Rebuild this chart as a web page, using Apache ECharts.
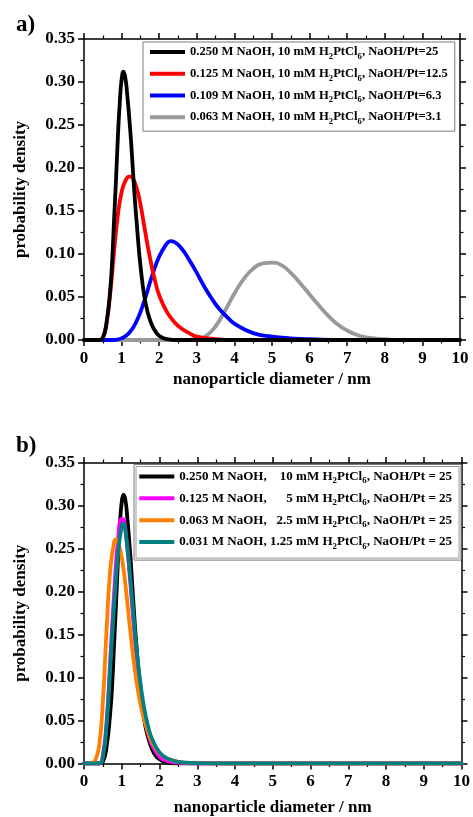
<!DOCTYPE html>
<html>
<head>
<meta charset="utf-8">
<script src="https://cdn.jsdelivr.net/npm/echarts@6/dist/echarts.min.js"></script>
<style>
  html, body { margin: 0; padding: 0; background: #fff; }
  #chart { width: 473px; height: 817px; }
</style>
</head>
<body>
<div id="chart"></div>
<script>
// ---- Panel a: varying NaOH at 10 mM H2PtCl6 ----
const nameBlackA = '0.250 M NaOH, 10 mM H2PtCl6, NaOH/Pt=25';
const nameRedA   = '0.125 M NaOH, 10 mM H2PtCl6, NaOH/Pt=12.5';
const nameBlueA  = '0.109 M NaOH, 10 mM H2PtCl6, NaOH/Pt=6.3';
const nameGreyA  = '0.063 M NaOH, 10 mM H2PtCl6, NaOH/Pt=3.1';

const blackD = [0, 0.4, 0.5, 0.6, 0.7, 0.75, 0.8, 0.85, 0.9, 0.95, 1.0, 1.05, 1.1, 1.15, 1.2, 1.25, 1.3, 1.35, 1.4, 1.45, 1.5, 1.6, 1.7, 1.8, 1.9, 2.0, 2.2, 2.5, 10];
const blackP = [0, 0, 0.002, 0.02, 0.06, 0.093, 0.14, 0.185, 0.235, 0.275, 0.303, 0.312, 0.305, 0.285, 0.26, 0.232, 0.198, 0.165, 0.137, 0.11, 0.087, 0.052, 0.031, 0.018, 0.010, 0.005, 0.001, 0, 0];

const redD = [0, 0.4, 0.5, 0.6, 0.7, 0.8, 0.9, 1.0, 1.1, 1.2, 1.25, 1.3, 1.4, 1.5, 1.6, 1.7, 1.8, 1.9, 2.0, 2.2, 2.4, 2.6, 2.8, 3.0, 3.5, 4.0, 10];
const redP = [0, 0, 0.003, 0.02, 0.055, 0.103, 0.145, 0.172, 0.185, 0.19, 0.19, 0.188, 0.177, 0.158, 0.133, 0.108, 0.086, 0.067, 0.052, 0.033, 0.021, 0.013, 0.008, 0.004, 0.001, 0, 0];

const blueD = [0, 0.8, 1.0, 1.2, 1.4, 1.6, 1.8, 2.0, 2.2, 2.3, 2.4, 2.6, 2.8, 3.0, 3.2, 3.4, 3.6, 3.8, 4.0, 4.5, 5.0, 5.5, 6.0, 7.0, 10];
const blueP = [0, 0, 0.002, 0.008, 0.022, 0.045, 0.073, 0.097, 0.112, 0.115, 0.114, 0.106, 0.093, 0.078, 0.062, 0.048, 0.036, 0.027, 0.019, 0.008, 0.004, 0.002, 0.001, 0, 0];

const greyD = [0, 2.5, 3.0, 3.25, 3.5, 3.75, 4.0, 4.25, 4.5, 4.75, 5.0, 5.25, 5.5, 5.75, 6.0, 6.25, 6.5, 6.75, 7.0, 7.25, 7.5, 8.0, 8.5, 10];
const greyP = [0, 0, 0.001, 0.005, 0.016, 0.034, 0.054, 0.071, 0.083, 0.089, 0.09, 0.087, 0.078, 0.066, 0.053, 0.04, 0.028, 0.018, 0.011, 0.006, 0.003, 0.001, 0, 0];

// ---- Panel b: constant NaOH/Pt = 25 ----
const nameBlackB   = '0.250 M NaOH, 10 mM H2PtCl6, NaOH/Pt = 25';
const nameMagentaB = '0.125 M NaOH, 5 mM H2PtCl6, NaOH/Pt = 25';
const nameOrangeB  = '0.063 M NaOH, 2.5 mM H2PtCl6, NaOH/Pt = 25';
const nameTealB    = '0.031 M NaOH, 1.25 mM H2PtCl6, NaOH/Pt = 25';

const black2D = [0, 0.4, 0.5, 0.6, 0.7, 0.75, 0.8, 0.85, 0.9, 0.95, 1.0, 1.05, 1.1, 1.15, 1.2, 1.25, 1.3, 1.35, 1.4, 1.45, 1.5, 1.6, 1.7, 1.8, 1.9, 2.0, 2.2, 2.5, 10];
const black2P = [0, 0, 0.002, 0.02, 0.062, 0.095, 0.142, 0.187, 0.237, 0.277, 0.305, 0.313, 0.306, 0.285, 0.258, 0.228, 0.193, 0.16, 0.132, 0.106, 0.084, 0.05, 0.03, 0.017, 0.009, 0.005, 0.001, 0, 0];

const magD = [0, 0.4, 0.5, 0.6, 0.7, 0.8, 0.9, 1.0, 1.05, 1.1, 1.2, 1.3, 1.4, 1.5, 1.6, 1.7, 1.8, 2.0, 2.2, 2.5, 3.0, 10];
const magP = [0, 0, 0.01, 0.05, 0.125, 0.2, 0.26, 0.285, 0.284, 0.272, 0.225, 0.17, 0.12, 0.082, 0.054, 0.035, 0.022, 0.008, 0.003, 0.001, 0, 0];

const orgD = [0, 0.2, 0.3, 0.4, 0.5, 0.6, 0.7, 0.8, 0.85, 0.9, 1.0, 1.1, 1.2, 1.3, 1.4, 1.5, 1.6, 1.7, 1.8, 2.0, 2.2, 2.5, 3.0, 3.5, 10];
const orgP = [0, 0, 0.004, 0.02, 0.072, 0.158, 0.228, 0.258, 0.261, 0.258, 0.24, 0.207, 0.165, 0.125, 0.093, 0.068, 0.05, 0.036, 0.025, 0.012, 0.006, 0.002, 0.0005, 0, 0];

const tealD = [0, 0.4, 0.5, 0.6, 0.7, 0.8, 0.9, 1.0, 1.05, 1.1, 1.2, 1.3, 1.4, 1.5, 1.6, 1.7, 1.8, 2.0, 2.2, 2.5, 3.0, 3.5, 10];
const tealP = [0, 0, 0.008, 0.045, 0.115, 0.185, 0.243, 0.277, 0.279, 0.27, 0.228, 0.178, 0.13, 0.092, 0.063, 0.043, 0.029, 0.013, 0.006, 0.002, 0.0005, 0, 0];

const SERIF = "'Liberation Serif', 'Times New Roman', serif";

function pairs(d, p) { return d.map((x, i) => [x, p[i]]); }

function curve(name, color, d, p, gi, z) {
  return {
    name, type: 'line', xAxisIndex: gi * 2, yAxisIndex: gi * 2,
    data: pairs(d, p), color, z,
    symbol: 'none', showSymbol: false, smooth: 0.5,
    lineStyle: { width: 3.8, color, cap: 'round', join: 'round' },
    emphasis: { disabled: true }, silent: true
  };
}

function richFor(size) {
  return {
    n: { fontFamily: SERIF, fontWeight: 'bold', fontSize: size, lineHeight: 18, color: '#000' },
    sp: { fontFamily: SERIF, fontWeight: 'bold', fontSize: size, lineHeight: 18, color: '#000' },
    s: { fontFamily: SERIF, fontWeight: 'bold', fontSize: size * 0.68, lineHeight: 10, verticalAlign: 'bottom', color: '#000' }
  };
}

// text width for right-aligning the H2PtCl6 concentration column
const measureCtx = document.createElement('canvas').getContext('2d');
function textWidth(str, size) {
  measureCtx.font = `bold ${size}px ${SERIF}`;
  return measureCtx.measureText(str).width;
}

// "a, b H2PtCl6, c" -> rich text with subscripts
function fmtA(name) {
  const parts = name.split(', ');
  const conc = parts[1].replace(' H2PtCl6', '');
  return `{n|${parts[0]}, ${conc} H}{s|2}{n|PtCl}{s|6}{n|, ${parts[2]}}`;
}
const CONC_COL = 52.5;
function fmtB(name) {
  const parts = name.split(', ');
  const conc = parts[1].replace(' H2PtCl6', '');
  const pad = Math.max(1, CONC_COL - textWidth(conc, 13));
  richB.sp.width = undefined;
  const key = 'p' + Math.round(pad * 10);
  richB[key] = Object.assign({}, richB.sp, { width: pad });
  return `{n|${parts[0]},}{${key}| }{n|${conc} H}{s|2}{n|PtCl}{s|6}{n|, ${parts[2]}}`;
}
const richB = richFor(13);
[nameBlackB, nameMagentaB, nameOrangeB, nameTealB].forEach(fmtB);

const axisFont = { fontFamily: SERIF, fontWeight: 'bold', fontSize: 17, color: '#000' };
const frameLine = { color: '#000', width: 1.5 };

function xAxes(gi, shown, gap) {
  return {
    type: 'value', gridIndex: gi, min: 0, max: 10, interval: 1,
    position: shown ? 'bottom' : 'top',
    axisLine: { show: true, onZero: false, lineStyle: frameLine },
    axisTick: { show: true, length: 6, lineStyle: frameLine },
    minorTick: { show: true, splitNumber: 2, length: 3.5, lineStyle: { color: '#000', width: 1.2 } },
    splitLine: { show: false },
    axisLabel: shown ? Object.assign({ margin: 10 }, axisFont) : { show: false },
    name: shown ? 'nanoparticle diameter / nm' : '',
    nameLocation: 'middle', nameGap: gap,
    nameTextStyle: { fontFamily: SERIF, fontWeight: 'bold', fontSize: 17, color: '#000' }
  };
}
function yAxes(gi, shown) {
  return {
    type: 'value', gridIndex: gi, min: 0, max: 0.35, interval: 0.05,
    position: shown ? 'left' : 'right',
    axisLine: { show: true, onZero: false, lineStyle: frameLine },
    axisTick: { show: true, length: 6, lineStyle: frameLine },
    minorTick: { show: true, splitNumber: 2, length: 3.5, lineStyle: { color: '#000', width: 1.2 } },
    splitLine: { show: false },
    axisLabel: shown ? Object.assign({ margin: 9, formatter: v => v.toFixed(2) }, axisFont) : { show: false },
    name: shown ? 'probability density' : '',
    nameLocation: 'middle', nameGap: 55, nameRotate: 90,
    nameTextStyle: { fontFamily: SERIF, fontWeight: 'bold', fontSize: 17, color: '#000' }
  };
}

const chart = echarts.init(document.getElementById('chart'), null, { renderer: 'canvas' });

chart.setOption({
  backgroundColor: '#fff',
  animation: false,
  grid: [
    { left: 84, top: 39, width: 376, height: 301 },
    { left: 84, top: 463, width: 382, height: 305 }
  ],
  xAxis: [xAxes(0, true, 31.5), xAxes(0, false, 0), xAxes(1, true, 35.5), xAxes(1, false, 0)],
  yAxis: [yAxes(0, true), yAxes(0, false), yAxes(1, true), yAxes(1, false)],
  legend: [
    {
      orient: 'vertical', left: 143, top: 42, padding: [3.6, 7, 5, 7], itemGap: 6.2,
      itemWidth: 35, itemHeight: 4, icon: 'rect', selectedMode: false,
      borderColor: '#7a7a7a', borderWidth: 1, backgroundColor: '#fff',
      data: [nameBlackA, nameRedA, nameBlueA, nameGreyA],
      formatter: fmtA, textStyle: { rich: richFor(12.6) }
    },
    {
      orient: 'vertical', left: 134, top: 464.5, padding: [5.4, 9, 9, 5.3], itemGap: 6.4,
      itemWidth: 35, itemHeight: 4, icon: 'rect', selectedMode: false,
      borderColor: '#7a7a7a', borderWidth: 1, backgroundColor: '#fff',
      data: [nameBlackB, nameMagentaB, nameOrangeB, nameTealB],
      formatter: fmtB, textStyle: { rich: richB }
    }
  ],
  graphic: [
    { id: 'labelA', type: 'text', left: 16, top: 14, style: { text: 'a)', font: `bold 23px ${SERIF}`, fill: '#000' } },
    { id: 'labelB', type: 'text', left: 16, top: 435, style: { text: 'b)', font: `bold 23px ${SERIF}`, fill: '#000' } }
  ],
  series: [
    curve(nameGreyA,  '#999999', greyD,  greyP,  0, 2),
    curve(nameBlueA,  '#0000ff', blueD,  blueP,  0, 3),
    curve(nameRedA,   '#ff0000', redD,   redP,   0, 4),
    curve(nameBlackA, '#000000', blackD, blackP, 0, 5),
    curve(nameBlackB,   '#000000', black2D, black2P, 1, 2),
    curve(nameMagentaB, '#ff00ff', magD,    magP,    1, 3),
    curve(nameOrangeB,  '#ff8000', orgD,    orgP,    1, 4),
    curve(nameTealB,    '#008080', tealD,   tealP,   1, 5)
  ]
});

// inner rule of the double frame around the second legend
const legendView = chart._componentsViews.find(v => v.__model && v.__model.mainType === 'legend' && v.__model.componentIndex === 1);
if (legendView) {
  const r = legendView.group.getBoundingRect();
  const t = legendView.group;
  chart.setOption({
    graphic: [{
      id: 'legendInner', type: 'rect', z: 100, silent: true,
      shape: { x: t.x + r.x + 2.5, y: t.y + r.y + 2.5, width: r.width - 5, height: r.height - 5 },
      style: { fill: 'none', stroke: '#9a9a9a', lineWidth: 1 }
    }]
  });
}
</script>
</body>
</html>
